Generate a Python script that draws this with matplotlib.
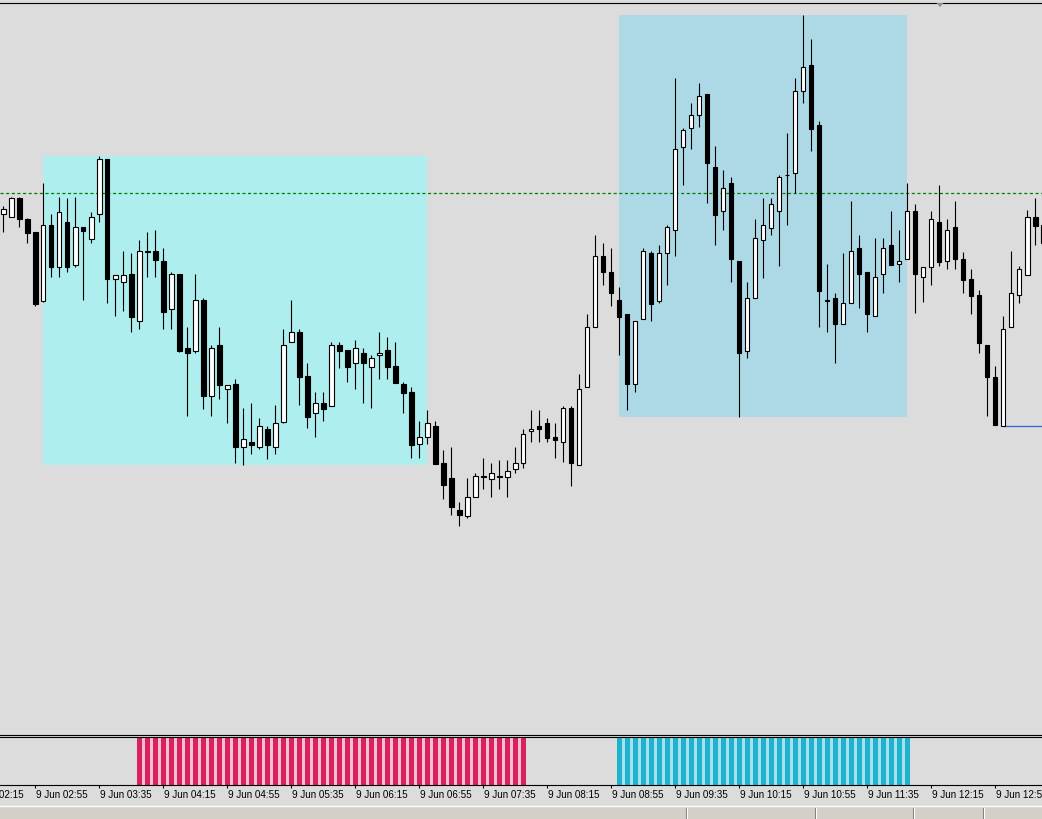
import numpy as np
import matplotlib
matplotlib.use("Agg")
import matplotlib.pyplot as plt
from matplotlib.patches import Rectangle, Polygon
from matplotlib.transforms import blended_transform_factory

# M5 candles, bar 0 = 9 Jun 02:35, prices in points
opens = [526, 523, 542, 521, 508, 439, 515, 473, 518, 475,
         513, 501, 526, 581, 461, 458, 466, 419, 489, 489,
         479, 431, 466, 392, 389, 440, 344, 395, 351, 356,
         293, 298, 293, 311, 293, 318, 398, 408, 364, 327,
         337, 334, 395, 390, 377, 387, 373, 385, 390, 374,
         356, 348, 296, 303, 314, 277, 262, 230, 224, 243,
         264, 261, 264, 263, 271, 277, 309, 314, 317, 303,
         298, 332, 275, 353, 413, 484, 468, 440, 426, 356,
         421, 487, 439, 487, 510, 593, 612, 625, 646, 573,
         529, 557, 479, 389, 442, 500, 512, 529, 565, 567,
         649, 675, 615, 440, 442, 416, 437, 492, 468, 424,
         466, 495, 476, 481, 529, 463, 473, 518, 479, 513,
         481, 461, 445, 395, 363, 314, 413, 445, 465, 523,
         515]
highs = [534, 543, 543, 522, 508, 557, 526, 543, 542, 543,
         513, 528, 584, 581, 465, 489, 487, 500, 508, 510,
         492, 468, 466, 413, 466, 442, 395, 413, 355, 361,
         332, 337, 322, 314, 335, 411, 440, 411, 377, 348,
         348, 398, 398, 390, 400, 392, 385, 408, 403, 398,
         358, 353, 319, 330, 319, 290, 293, 238, 262, 267,
         282, 277, 280, 280, 293, 311, 330, 330, 322, 317,
         334, 334, 366, 426, 505, 497, 492, 453, 426, 419,
         492, 489, 495, 515, 662, 612, 637, 657, 646, 594,
         570, 563, 479, 458, 521, 542, 542, 565, 607, 662,
         725, 701, 619, 476, 447, 487, 539, 505, 468, 502,
         502, 529, 510, 557, 536, 473, 529, 555, 521, 539,
         488, 471, 450, 395, 374, 424, 489, 474, 530, 542,
         520]
lows = [508, 523, 513, 497, 434, 438, 463, 463, 468, 473,
        440, 497, 518, 437, 424, 429, 408, 411, 463, 463,
        411, 411, 388, 324, 387, 331, 324, 341, 317, 277,
        275, 286, 291, 281, 286, 317, 398, 335, 312, 303,
        319, 334, 372, 358, 351, 337, 332, 361, 361, 357,
        327, 282, 282, 296, 276, 241, 225, 214, 222, 243,
        251, 243, 251, 243, 267, 272, 298, 298, 298, 282,
        278, 254, 275, 353, 413, 455, 434, 385, 330, 348,
        421, 419, 437, 455, 484, 555, 591, 613, 537, 495,
        510, 458, 323, 382, 442, 462, 505, 474, 515, 547,
        637, 589, 413, 408, 377, 416, 437, 432, 408, 424,
        447, 475, 458, 481, 427, 438, 455, 474, 471, 471,
        447, 426, 387, 324, 315, 314, 413, 437, 465, 495,
        480]
closes = [531, 542, 521, 507, 436, 515, 473, 528, 473, 513,
          509, 523, 581, 461, 465, 465, 423, 489, 488, 480,
          428, 466, 389, 387, 440, 344, 392, 355, 355, 293,
          301, 295, 314, 295, 317, 395, 408, 363, 323, 337,
          331, 395, 389, 373, 392, 377, 382, 387, 373, 357,
          347, 295, 303, 317, 276, 255, 233, 225, 243, 264,
          263, 267, 263, 269, 277, 306, 311, 311, 302, 300,
          332, 277, 351, 413, 484, 468, 447, 423, 356, 419,
          489, 436, 487, 513, 591, 610, 625, 644, 577, 525,
          552, 481, 387, 442, 502, 515, 536, 563, 565, 649,
          673, 611, 449, 439, 416, 437, 489, 466, 426, 463,
          492, 475, 479, 529, 466, 473, 521, 478, 510, 481,
          460, 444, 397, 363, 315, 411, 447, 471, 523, 514,
          497]

# drawn objects: (bar from, bar to, low price, high price, colour)
zones = [(5, 53, 275, 584, '#AFEEEE'),
         (77, 113, 323, 725, '#ADD8E6')]
level_line = 547          # dashed green
support_line = 314        # blue, from bar 125
support_from = 125

# indicator histogram ranges (bar indices)
sell_bars = (17, 65)
buy_bars = (77, 113)

label_bars = [-4, 4, 12, 20, 28, 36, 44, 52, 60, 68, 76, 84, 92, 100, 108, 116, 124]
time_labels = ["9 Jun 02:15", "9 Jun 02:55", "9 Jun 03:35", "9 Jun 04:15", "9 Jun 04:55",
               "9 Jun 05:35", "9 Jun 06:15", "9 Jun 06:55", "9 Jun 07:35", "9 Jun 08:15",
               "9 Jun 08:55", "9 Jun 09:35", "9 Jun 10:15", "9 Jun 10:55", "9 Jun 11:35",
               "9 Jun 12:15", "9 Jun 12:55"]

W, H = 1042, 819
bg = '#DCDCDC'
fig = plt.figure(figsize=(W / 100, H / 100), dpi=100, facecolor=bg)


def box(top, bottom):
    return [0, 1 - bottom / H, 1, (bottom - top) / H]


xlim = (-3.3 / 8, (W - 3.3) / 8)

ax = fig.add_axes(box(2.5, 735))
ax.set_facecolor(bg)
ax.set_xlim(*xlim)
ax.set_ylim(740 - 735, 740 - 2.5)
for s in ['left', 'right']:
    ax.spines[s].set_visible(False)
for s in ['top', 'bottom']:
    ax.spines[s].set_color('black')
    ax.spines[s].set_linewidth(0.8)
ax.set_xticks([])
ax.set_yticks([])

for x0, x1, lo, hi, col in zones:
    ax.add_patch(Rectangle((x0, lo), x1 - x0, hi - lo, facecolor=col, edgecolor='none', zorder=1))

ax.axhline(level_line, color='#008000', lw=0.9, dashes=(2.5, 2), zorder=2)
ax.hlines(support_line, support_from, xlim[1] + 1, color='#3A5FCD', lw=0.9, zorder=2)

o = np.array(opens)
h = np.array(highs)
l = np.array(lows)
c = np.array(closes)
x = np.arange(len(o))
up = c >= o

ax.vlines(x, l, h, color='black', lw=0.8, zorder=3)
bot = np.minimum(o, c)
ht = np.maximum(np.abs(c - o), 0.3)
ax.bar(x[up], ht[up], bottom=bot[up], width=0.55, color='white', edgecolor='black', lw=0.8, zorder=4)
ax.bar(x[~up], ht[~up], bottom=bot[~up], width=0.55, color='black', edgecolor='black', lw=0.8, zorder=4)

# indicator window
ax2 = fig.add_axes(box(737, 785))
ax2.set_facecolor(bg)
ax2.set_xlim(*xlim)
ax2.set_ylim(0, 1)
for s in ['left', 'right']:
    ax2.spines[s].set_visible(False)
for s in ['top', 'bottom']:
    ax2.spines[s].set_color('black')
    ax2.spines[s].set_linewidth(0.8)
ax2.set_yticks([])

for (b0, b1), dark, light in [(sell_bars, '#D8215E', '#F2BFD3'), (buy_bars, '#1BB3CE', '#A9DEEA')]:
    bx = np.arange(b0, b1 + 1)
    ax2.bar(bx[:-1] + 0.5, np.ones(len(bx) - 1), width=0.5, color=light, lw=0, zorder=1)
    ax2.bar(bx, np.ones(len(bx)), width=0.58, color=dark, lw=0, zorder=2)

ax2.set_xticks([b for b in label_bars if b >= 0])
ax2.set_xticklabels([])
ax2.tick_params(axis='x', direction='out', length=2.5, width=0.8, color='black')
tr = blended_transform_factory(ax2.transData, ax2.transAxes)
for b, lab in zip(label_bars, time_labels):
    ax2.text(b + 0.05, -0.1, lab, transform=tr, ha='left', va='top',
             fontsize=7.1, family='Liberation Sans', color='black', clip_on=False)

# status bar at the bottom of the window
fig.patches.append(Rectangle((0, 0), 1, 12.5 / H, transform=fig.transFigure,
                             facecolor='#D4D0C8', edgecolor='none', zorder=0))
fig.lines.append(plt.Line2D([0, 1], [13 / H, 13 / H], transform=fig.transFigure, color='white', lw=1))
for px in [686, 815, 913, 983]:
    fig.lines.append(plt.Line2D([px / W, px / W], [0, 11 / H], transform=fig.transFigure, color='#808080', lw=0.8))
    fig.lines.append(plt.Line2D([(px + 1) / W, (px + 1) / W], [0, 11 / H], transform=fig.transFigure, color='white', lw=0.8))

# chart shift marker under the top border
fig.patches.append(Polygon([(936.5 / W, 1 - 3 / H), (943.5 / W, 1 - 3 / H), (940 / W, 1 - 7 / H)], closed=True,
                           transform=fig.transFigure, facecolor='#8C8C8C', edgecolor='none', zorder=5))

fig.savefig('out.png', dpi=100, facecolor=bg)
